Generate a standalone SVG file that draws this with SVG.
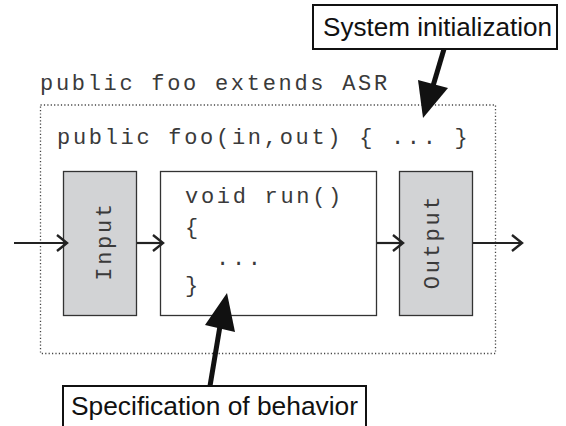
<svg xmlns="http://www.w3.org/2000/svg" width="566" height="426" viewBox="0 0 566 426">
<style>
.mono{font-family:"Liberation Mono","DejaVu Sans Mono",monospace;font-size:22px;letter-spacing:2.7px;fill:#3a3a3a}
.sans{font-family:"Liberation Sans",Arial,sans-serif;font-size:25px;fill:#111}
.block{stroke:#333;stroke-width:1.3}
.label{fill:#fff;stroke:#111;stroke-width:2}
.conn{stroke:#222;stroke-width:2.2;fill:none}
.head{stroke:#222;stroke-width:2.4;fill:none;stroke-linejoin:miter}
.big{stroke:#111;stroke-width:5;fill:none}
.bighead{fill:#111}
</style>
<rect width="566" height="426" fill="#fff"/>
<g id="container">
<rect x="40.5" y="105" width="455" height="248.5" fill="none" stroke="#444" stroke-width="1.3" stroke-dasharray="1.2 2.2"/>
<text class="mono" x="40" y="90">public foo extends ASR</text>
<text class="mono" x="57" y="144">public foo(in,out) { ... }</text>
</g>
<g id="input">
<rect class="block" x="63.5" y="171.5" width="73" height="144" fill="#d2d3d5"/>
<text class="mono" transform="translate(111,241) rotate(-90)" text-anchor="middle">Input</text>
</g>
<g id="run">
<rect class="block" x="160.5" y="171.5" width="216" height="144" fill="#fff"/>
<text class="mono" x="185" y="203">void run()</text>
<text class="mono" x="185" y="234">{</text>
<text class="mono" x="216" y="265">...</text>
<text class="mono" x="185" y="292">}</text>
</g>
<g id="output">
<rect class="block" x="399.5" y="171.5" width="73" height="144" fill="#d2d3d5"/>
<text class="mono" transform="translate(439,241.5) rotate(-90)" text-anchor="middle">Output</text>
</g>
<g id="sysinit">
<rect class="label" x="313" y="5" width="244" height="44"/>
<text class="sans" x="323" y="36" textLength="229" lengthAdjust="spacingAndGlyphs">System initialization</text>
</g>
<g id="spec">
<rect class="label" x="63" y="386" width="303" height="44"/>
<text class="sans" x="71" y="415" textLength="287" lengthAdjust="spacingAndGlyphs">Specification of behavior</text>
</g>
<g id="connectors">
<line class="conn" x1="14" y1="243" x2="66" y2="243"/>
<polyline class="head" points="57,235 67,243 57,251"/>
<line class="conn" x1="137" y1="243" x2="162" y2="243"/>
<polyline class="head" points="153,235 163,243 153,251"/>
<line class="conn" x1="377" y1="243" x2="402" y2="243"/>
<polyline class="head" points="393,235 403,243 393,251"/>
<line class="conn" x1="473" y1="243" x2="521" y2="243"/>
<polyline class="head" points="512,235 522,243 512,251"/>
<line class="big" x1="444" y1="49" x2="433" y2="86"/>
<polygon class="bighead" points="418,80 448,88 423,118"/>
<line class="big" x1="210" y1="386" x2="220" y2="326"/>
<polygon class="bighead" points="205,325 235,332 227,293"/>
</g>
</svg>
